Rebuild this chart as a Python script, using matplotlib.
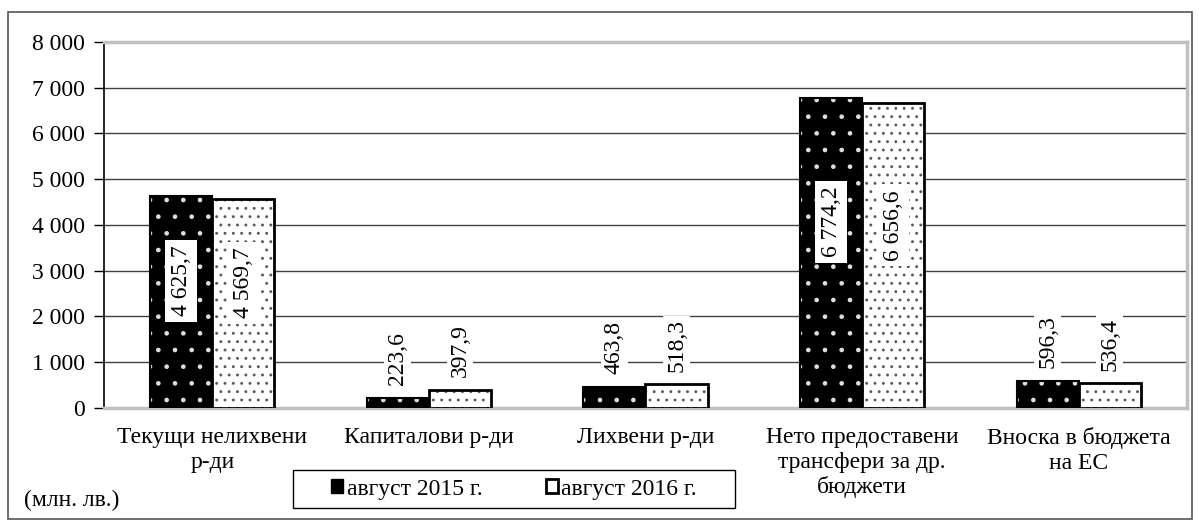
import matplotlib
matplotlib.use("Agg")
from matplotlib import pyplot as plt
from matplotlib.patches import Rectangle
import numpy as np

categories = ["Текущи нелихвени\nр-ди", "Капиталови р-ди", "Лихвени р-ди",
              "Нето предоставени\nтрансфери за др.\nбюджети", "Вноска в бюджета\nна ЕС"]
aug_2015 = [4625.7, 223.6, 463.8, 6774.2, 596.3]
aug_2016 = [4569.7, 397.9, 518.3, 6656.6, 536.4]
series_names = ["август 2015 г.", "август 2016 г."]
yticks = list(range(0, 8001, 1000))

plt.rcParams['font.family'] = ['Liberation Serif', 'DejaVu Serif']
plt.rcParams['hatch.linewidth'] = 0.9
FS = 17

def fmt(v, dec=True):
    s = "{:,.1f}".format(v) if dec else "{:,.0f}".format(v)
    return s.replace(",", " ").replace(".", ",")

fig = plt.figure(figsize=(11.99, 5.21), dpi=100)
ax = fig.add_axes([0.0867, 0.2169, 0.9033, 0.7025])

x = np.arange(len(categories))
w = 0.287

# fill with hatch (edgecolor = hatch colour), then a plain outline on top
ax.bar(x - w / 2, aug_2015, w, color='black', edgecolor='#e0e0e0', hatch='.', linewidth=0, zorder=3)
ax.bar(x + w / 2, aug_2016, w, color='white', edgecolor='#5a5a5a', hatch='..', linewidth=0, zorder=3)
ax.bar(x - w / 2, aug_2015, w, fill=False, edgecolor='black', linewidth=1.5, zorder=4)
ax.bar(x + w / 2, aug_2016, w, fill=False, edgecolor='black', linewidth=2, zorder=4)

box = dict(facecolor='white', edgecolor='none', pad=4)
for xs, vals in [(x - w / 2, aug_2015), (x + w / 2, aug_2016)]:
    for xi, v in zip(xs, vals):
        if v > 2000:
            ax.text(xi, v * 0.6, fmt(v), rotation=90, ha='center', va='center',
                    fontsize=FS, bbox=box, zorder=5)
        else:
            ax.annotate(fmt(v), (xi, v), xytext=(0, 9), textcoords='offset points',
                        rotation=90, ha='center', va='bottom', fontsize=FS,
                        bbox=dict(facecolor='white', edgecolor='none', pad=2), zorder=5)

ax.set_xlim(-0.5, len(categories) - 0.5)
ax.set_ylim(0, 8000)
ax.set_yticks(yticks)
ax.set_yticklabels([fmt(t, False) for t in yticks], fontsize=FS)
ax.set_xticks(x)
ax.set_xticklabels(categories, fontsize=FS, linespacing=1.2)
ax.tick_params(axis='x', length=0, pad=14)
ax.tick_params(axis='y', length=7, width=1, pad=7, color='black')
ax.yaxis.grid(True, color='#404040', linewidth=1)
ax.set_axisbelow(True)

for s in ['top', 'right', 'bottom']:
    ax.spines[s].set_color('#c0c0c0')
    ax.spines[s].set_linewidth(2.5)
ax.spines['left'].set_color('black')
ax.spines['left'].set_linewidth(1.2)

h1 = Rectangle((0, 0), 1, 1, facecolor='black', edgecolor='black')
h2 = Rectangle((0, 0), 1, 1, facecolor='white', edgecolor='black', linewidth=2)
fig.legend([h1, h2], series_names, loc='center', bbox_to_anchor=(0.4287, 0.0614),
           ncol=2, fontsize=FS, frameon=False,
           handlelength=0.5, handleheight=0.5, handletextpad=0.15, columnspacing=2.7)
# legend frame
fig.patches.append(Rectangle((293 / 1199, 13 / 521), 442 / 1199, 38 / 521,
                             transform=fig.transFigure, fill=False,
                             edgecolor='black', linewidth=1.0))

fig.text(0.02, 0.02, "(млн. лв.)", fontsize=FS, ha='left', va='bottom')

fig.patches.append(Rectangle((0.0067, 0.004), 0.9875, 0.973, transform=fig.transFigure,
                             fill=False, edgecolor='#555555', linewidth=1.2))

fig.savefig("out.png", dpi=100)
